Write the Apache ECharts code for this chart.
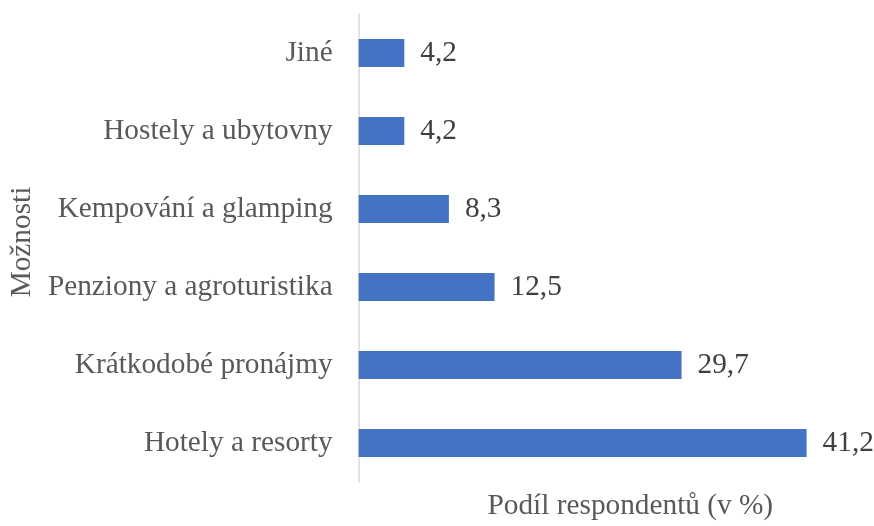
<!DOCTYPE html>
<html>
<head>
<meta charset="utf-8">
<script src="https://cdn.jsdelivr.net/npm/echarts@6/dist/echarts.min.js"></script>
<style>
  html, body { margin: 0; padding: 0; background: #ffffff; }
  #chart { width: 874px; height: 526px; }
</style>
</head>
<body>
<div id="chart"></div>
<script>
// Categories listed bottom to top, as the category axis draws them
const categories = [
  'Hotely a resorty',
  'Krátkodobé pronájmy',
  'Penziony a agroturistika',
  'Kempování a glamping',
  'Hostely a ubytovny',
  'Jiné'
];
// Share of respondents in percent
const shares = [41.2, 29.7, 12.5, 8.3, 4.2, 4.2];

const xAxisTitle = 'Podíl respondentů (v %)';
const yAxisTitle = 'Možnosti';

const FONT = '"Liberation Serif", "Times New Roman", serif';

const chart = echarts.init(document.getElementById('chart'), null, { renderer: 'canvas' });

chart.setOption({
  backgroundColor: '#ffffff',
  animation: false,
  grid: { left: 356, top: 14, right: 0, height: 476, containLabel: false },
  xAxis: {
    type: 'value',
    min: 0,
    max: 47.4,
    axisLine: { show: false },
    axisTick: { show: false },
    axisLabel: { show: false },
    splitLine: { show: false },
    name: xAxisTitle,
    nameLocation: 'middle',
    nameGap: 10,
    nameTextStyle: {
      fontFamily: FONT, fontSize: 29.3, color: '#595959',
      verticalAlign: 'top', padding: [0, 0, 0, 28]
    }
  },
  yAxis: {
    type: 'category',
    data: categories,
    axisLine: { show: true, lineStyle: { color: '#d9d9d9', width: 1.5 } },
    axisTick: { show: false },
    splitLine: { show: false },
    axisLabel: { fontFamily: FONT, fontSize: 29.3, color: '#595959', margin: 26 },
    name: yAxisTitle,
    nameLocation: 'middle',
    nameRotate: 90,
    nameGap: 320,
    nameTextStyle: {
      fontFamily: FONT, fontSize: 29.3, color: '#595959',
      padding: [0, 0, 0, 12]
    }
  },
  series: [{
    type: 'bar',
    data: shares,
    barWidth: 28,
    itemStyle: { color: '#4472c4' },
    label: {
      show: true,
      position: 'right',
      distance: 16,
      fontFamily: FONT,
      fontSize: 29.3,
      color: '#404040',
      formatter: p => String(p.value).replace('.', ',')
    }
  }]
});
</script>
</body>
</html>
